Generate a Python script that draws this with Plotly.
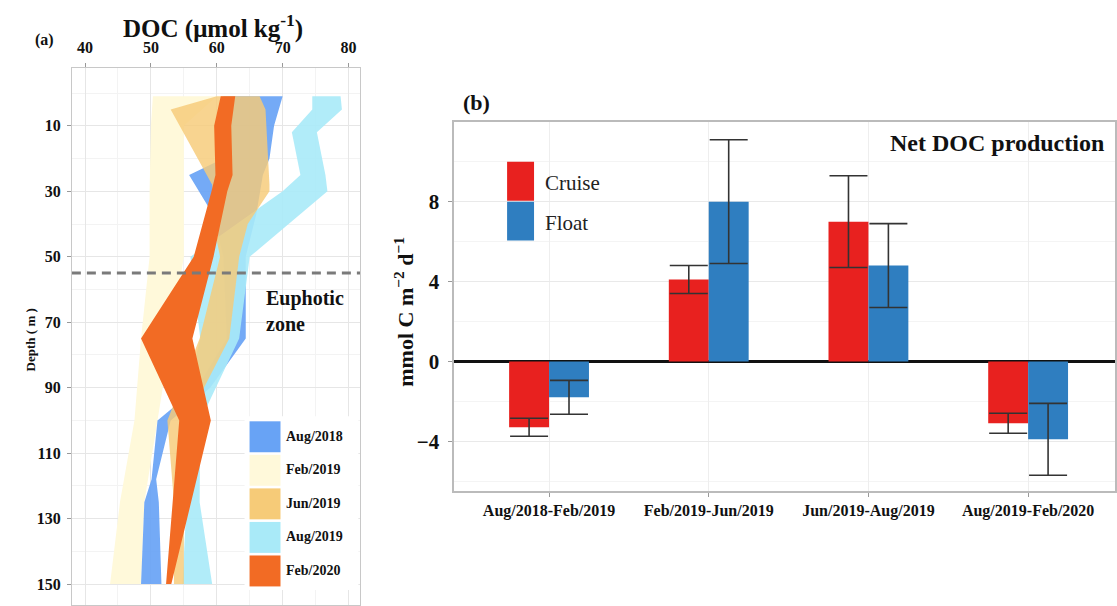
import plotly.graph_objects as go

W, H = 1117, 606
FONT = "Liberation Serif"

# ---------------- Panel (a): DOC profiles (min/max band per cruise) ----------------
series_names = ["Aug/2018", "Feb/2019", "Jun/2019", "Aug/2019", "Feb/2020"]
series_colors = ["#68A3F5", "#FFF9DA", "#F6CB78", "#A9EAF8", "#F26B24"]

aug2018_depth = [1, 10, 20, 25, 37, 50, 75, 90, 100, 118, 125, 150]
aug2018_min = [61.0, 61.0, 61.0, 55.8, 59.4, 61.0, 61.5, 57.0, 51.0, 50.1, 49.0, 48.5]
aug2018_max = [70.0, 68.7, 68.0, 67.0, 66.0, 64.4, 64.4, 59.0, 53.0, 50.8, 51.2, 51.6]

feb2019_depth = [1, 10, 30, 50, 75, 100, 125, 150]
feb2019_min = [50.3, 50.0, 49.8, 49.8, 48.5, 47.5, 45.3, 43.8]
feb2019_max = [60.0, 55.0, 55.0, 55.0, 53.0, 51.0, 49.0, 48.5]

jun2019_depth = [1, 5, 28, 30, 40, 50, 75, 100, 125, 150]
jun2019_min = [60.0, 53.0, 59.3, 59.4, 59.5, 60.5, 57.4, 52.5, 53.5, 53.5]
jun2019_max = [66.5, 67.4, 68.0, 68.0, 64.7, 63.4, 61.9, 55.5, 55.0, 55.0]

aug2019_depth = [1, 5, 12, 25, 30, 50, 75, 100, 125, 150]
aug2019_min = [74.5, 74.5, 71.4, 72.7, 70.0, 56.0, 57.5, 54.5, 55.4, 54.8]
aug2019_max = [78.8, 79.0, 75.2, 76.5, 76.8, 65.0, 63.4, 57.5, 57.4, 59.3]

feb2020_depth = [1, 10, 25, 30, 50, 75, 100, 150]
feb2020_min = [60.6, 59.6, 59.8, 59.2, 56.5, 48.5, 54.3, 52.3]
feb2020_max = [62.8, 62.2, 62.4, 61.6, 59.5, 56.3, 59.1, 53.1]

euphotic_depth = 55

depth_ticks = [10, 30, 50, 70, 90, 110, 130, 150]
doc_ticks = [40, 50, 60, 70, 80]

# ---------------- Panel (b): Net DOC production ----------------
periods = ["Aug/2018-Feb/2019", "Feb/2019-Jun/2019", "Jun/2019-Aug/2019", "Aug/2019-Feb/2020"]
cruise_vals = [-3.3, 4.1, 7.0, -3.1]
cruise_err = [0.45, 0.7, 2.3, 0.5]
float_vals = [-1.8, 8.0, 4.8, -3.9]
float_err = [0.85, 3.1, 2.1, 1.8]
prod_ticks = [-4, 0, 4, 8]

CRUISE_COLOR = "#E8211F"
FLOAT_COLOR = "#2F7EC0"


def px_x(p):
    return p / W


def px_y(p):
    return 1 - p / H


fig = go.Figure()

profiles = {
    "Aug/2018": (aug2018_depth, aug2018_min, aug2018_max),
    "Feb/2019": (feb2019_depth, feb2019_min, feb2019_max),
    "Jun/2019": (jun2019_depth, jun2019_min, jun2019_max),
    "Aug/2019": (aug2019_depth, aug2019_min, aug2019_max),
    "Feb/2020": (feb2020_depth, feb2020_min, feb2020_max),
}
opac = {"Aug/2018": 0.92, "Feb/2019": 1.0, "Jun/2019": 0.82, "Aug/2019": 0.9, "Feb/2020": 1.0}
draw_order = ["Feb/2019", "Aug/2018", "Aug/2019", "Jun/2019", "Feb/2020"]
for name in draw_order:
    d, lo, hi = profiles[name]
    col = series_colors[series_names.index(name)]
    fig.add_trace(go.Scatter(
        x=list(lo) + list(hi)[::-1], y=list(d) + list(d)[::-1],
        fill="toself", fillcolor=col, opacity=opac[name],
        line=dict(width=0, color=col), mode="lines",
        name=name, showlegend=False, xaxis="x", yaxis="y", hoverinfo="name"))

# euphotic zone dashed line
fig.add_trace(go.Scatter(
    x=[38.0, 81.8], y=[euphotic_depth, euphotic_depth], mode="lines",
    line=dict(color="#7A7A7A", width=3, dash="9px,6px"),
    showlegend=False, xaxis="x", yaxis="y", hoverinfo="skip"))

# bars
fig.add_trace(go.Bar(
    x=periods, y=cruise_vals, name="Cruise", marker=dict(color=CRUISE_COLOR, line=dict(width=0)),
    error_y=dict(type="data", array=cruise_err, visible=True, color="#333333", thickness=1.6, width=19),
    xaxis="x2", yaxis="y2", showlegend=False))
fig.add_trace(go.Bar(
    x=periods, y=float_vals, name="Float", marker=dict(color=FLOAT_COLOR, line=dict(width=0)),
    error_y=dict(type="data", array=float_err, visible=True, color="#333333", thickness=1.6, width=19),
    xaxis="x2", yaxis="y2", showlegend=False))


def bfont(size, color="#111111"):
    return dict(family=FONT, size=size, color=color, weight="bold")


fig.update_layout(
    width=W, height=H, autosize=False,
    margin=dict(l=0, r=0, t=0, b=0),
    paper_bgcolor="white", plot_bgcolor="white",
    barmode="group", bargap=0.5, bargroupgap=0,
    font=dict(family=FONT, color="#111111"),
    xaxis=dict(
        domain=[px_x(72), px_x(361)], anchor="y", side="top",
        range=[38.0, 81.8], tickvals=doc_ticks, ticks="outside", ticklen=4,
        tickcolor="#999999", tickfont=bfont(16),
        showgrid=True, gridcolor="#E6E6E6", gridwidth=1,
        minor=dict(dtick=5, tick0=0, showgrid=True, gridcolor="#F3F3F3"),
        showline=True, linecolor="#C8C8C8", linewidth=1, mirror=True, zeroline=False,
        ticklabelstandoff=3),
    yaxis=dict(
        domain=[0, px_y(68)], anchor="x",
        range=[156.4, -7.7], tickvals=depth_ticks, ticks="outside", ticklen=4,
        tickcolor="#999999", tickfont=bfont(16),
        showgrid=True, gridcolor="#E6E6E6",
        minor=dict(dtick=10, tick0=0, showgrid=True, gridcolor="#F3F3F3"),
        showline=True, linecolor="#C8C8C8", linewidth=1, mirror=True, zeroline=False,
        ticklabelstandoff=3),
    xaxis2=dict(
        domain=[px_x(455), 1], anchor="y2",
        range=[-0.594, 3.544], ticks="outside", ticklen=4, tickcolor="#999999",
        tickfont=bfont(16), showgrid=True, gridcolor="#EEEEEE",
        showline=True, linecolor="#BBBBBB", linewidth=1.5, mirror=True),
    yaxis2=dict(
        domain=[px_y(492), px_y(122)], anchor="x2",
        range=[-6.5, 12.0], tickvals=prod_ticks, ticks="outside", ticklen=4,
        tickcolor="#999999", tickfont=bfont(21),
        showgrid=True, gridcolor="#E9E9E9",
        minor=dict(dtick=2, tick0=0, showgrid=True, gridcolor="#F4F4F4"),
        zeroline=True, zerolinecolor="#111111", zerolinewidth=2.5,
        showline=True, linecolor="#BBBBBB", linewidth=1.5, mirror=True,
        ticklabelstandoff=5),
)


def bold(s):
    return "<b>" + s + "</b>"


def label(text, x, y, size, xanchor="center", yanchor="middle", angle=0, bolded=True, color="#111111"):
    return dict(text=bold(text) if bolded else text, x=px_x(x), y=px_y(y), xref="paper", yref="paper",
                xanchor=xanchor, yanchor=yanchor, textangle=angle, showarrow=False, align="left",
                font=dict(family=FONT, size=size, color=color))


ann = [
    label("DOC (μmol kg<sup>-1</sup>)", 213, 27, 25),
    label("(a)", 45, 40, 16),
    label("Depth ( m )", 30, 340, 13, angle=-90),
    label("Euphotic<br>zone", 264, 312, 20, xanchor="left"),
    label("(b)", 477, 103, 22),
    label("Net DOC production", 1108, 143, 24, xanchor="right"),
    label("mmol C m<sup>−2</sup> d<sup>−1</sup>", 405, 312, 22, angle=-90),
]

shapes = []
# legend (a)
shapes.append(dict(type="rect", xref="paper", yref="paper", x0=px_x(245), x1=px_x(359), y0=px_y(591),
                   y1=px_y(417), fillcolor="white", line=dict(width=0), layer="above"))
for i, name in enumerate(series_names):
    top = 422 + i * 33.6
    shapes.append(dict(type="rect", xref="paper", yref="paper", x0=px_x(250), x1=px_x(281),
                       y0=px_y(top + 31), y1=px_y(top), fillcolor=series_colors[i],
                       line=dict(width=0), layer="above"))
    ann.append(label(name, 285, top + 15, 14, xanchor="left"))
# legend (b)
for i, (name, col) in enumerate([("Cruise", CRUISE_COLOR), ("Float", FLOAT_COLOR)]):
    top = 162 + i * 40
    shapes.append(dict(type="rect", xref="paper", yref="paper", x0=px_x(508), x1=px_x(535),
                       y0=px_y(top + 39), y1=px_y(top), fillcolor=col, line=dict(width=0)))
    ann.append(label(name, 544, top + 21, 21, xanchor="left", bolded=False, color="#222222"))

fig.update_layout(annotations=ann, shapes=shapes)
fig.write_html("out.html", config={"displayModeBar": False},
               post_script="document.body.style.margin='0';")
